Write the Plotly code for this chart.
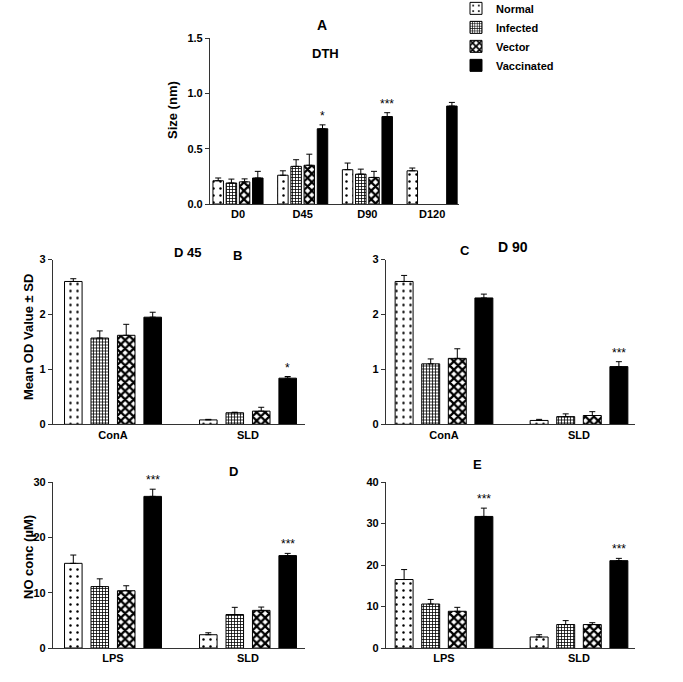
import plotly.graph_objects as go

# ---------------- data ----------------
groups = ["Normal", "Infected", "Vector", "Vaccinated"]

# Panel A: DTH
dth_days = ["D0", "D45", "D90", "D120"]
dth_normal = [0.21, 0.26, 0.31, 0.30]
dth_normal_sd = [0.025, 0.04, 0.06, 0.025]
dth_infected = [0.19, 0.34, 0.27, None]
dth_infected_sd = [0.035, 0.06, 0.045, None]
dth_vector = [0.20, 0.35, 0.24, None]
dth_vector_sd = [0.027, 0.10, 0.055, None]
dth_vaccinated = [0.235, 0.68, 0.79, 0.885]
dth_vaccinated_sd = [0.06, 0.035, 0.035, 0.033]
dth_sig = ["", "*", "***", ""]

# Panels B, C: lymphoproliferation (Mean OD)
lpa_stimuli = ["ConA", "SLD"]
d45_normal = [2.60, 0.08]
d45_normal_sd = [0.05, 0.01]
d45_infected = [1.57, 0.21]
d45_infected_sd = [0.13, 0.01]
d45_vector = [1.62, 0.24]
d45_vector_sd = [0.20, 0.07]
d45_vaccinated = [1.95, 0.84]
d45_vaccinated_sd = [0.09, 0.03]
d45_sig = ["", "*"]

d90_normal = [2.60, 0.07]
d90_normal_sd = [0.11, 0.02]
d90_infected = [1.10, 0.14]
d90_infected_sd = [0.09, 0.05]
d90_vector = [1.20, 0.16]
d90_vector_sd = [0.175, 0.07]
d90_vaccinated = [2.30, 1.05]
d90_vaccinated_sd = [0.07, 0.09]
d90_sig = ["", "***"]

# Panels D, E: NO concentration
no_stimuli = ["LPS", "SLD"]
no45_normal = [15.3, 2.4]
no45_normal_sd = [1.5, 0.35]
no45_infected = [11.1, 6.05]
no45_infected_sd = [1.4, 1.3]
no45_vector = [10.35, 6.8]
no45_vector_sd = [0.9, 0.6]
no45_vaccinated = [27.4, 16.7]
no45_vaccinated_sd = [1.3, 0.4]
no45_sig = ["***", "***"]

no90_normal = [16.5, 2.65]
no90_normal_sd = [2.4, 0.55]
no90_infected = [10.6, 5.65]
no90_infected_sd = [1.1, 0.95]
no90_vector = [8.85, 5.65]
no90_vector_sd = [0.95, 0.45]
no90_vaccinated = [31.7, 21.05]
no90_vaccinated_sd = [2.0, 0.55]
no90_sig = ["***", "***"]

# ---------------- styling ----------------
W, H = 683, 682
FONT = "Arial, Liberation Sans, Helvetica, sans-serif"

patterns = {
    "Normal": dict(shape=".", size=7, solidity=0.1, fgcolor="black", bgcolor="white", fillmode="replace"),
    "Infected": dict(shape="+", size=3, solidity=0.45, fgcolor="black", bgcolor="white", fillmode="replace"),
    "Vector": dict(shape="x", size=6, solidity=0.6, fgcolor="black", bgcolor="white", fillmode="replace"),
    "Vaccinated": dict(shape="", fgcolor="black", bgcolor="black"),
}
colors = {"Normal": "white", "Infected": "white", "Vector": "white", "Vaccinated": "black"}


def px_x(p):
    return p / W


def px_y(p):
    return 1 - p / H


fig = go.Figure()
annotations = []


def add_panel(idx, cats, series, sds, sig, slot, width, xpx, ypx, yrange, dtick, tickfmt, showlegend=False):
    xa = "x" if idx == 1 else f"x{idx}"
    ya = "y" if idx == 1 else f"y{idx}"
    for i, g in enumerate(groups):
        vals = series[i]
        sd = sds[i]
        fig.add_trace(go.Bar(
            x=cats, y=vals, name=g, xaxis=xa, yaxis=ya,
            width=width, offset=(i - 1.5) * slot - width / 2,
            marker=dict(color=colors[g], line=dict(color="black", width=1), pattern=patterns[g]),
            error_y=dict(type="data", symmetric=False, array=sd,
                         arrayminus=[0 if v is not None else None for v in sd],
                         color="black", thickness=1, width=3),
            showlegend=showlegend, legendgroup=g,
        ))
    # significance stars above vaccinated bars
    for j, s in enumerate(sig):
        if s:
            top = series[3][j] + sds[3][j]
            annotations.append(dict(
                x=j + 1.5 * slot, y=top, xref=xa, yref=ya, text=s, showarrow=False,
                yanchor="middle", yshift=9, font=dict(family=FONT, size=12, color="black"),
            ))
    axkey_x = "xaxis" if idx == 1 else f"xaxis{idx}"
    axkey_y = "yaxis" if idx == 1 else f"yaxis{idx}"
    x0, x1, c0, c1 = xpx
    unit = c1 - c0
    fig.layout[axkey_x] = dict(
        domain=[px_x(x0), px_x(x1)], anchor=ya, type="category",
        range=[(x0 - c0) / unit, (x1 - c0) / unit],
        showline=True, linecolor="#333", linewidth=1.2, ticks="", showgrid=False, zeroline=False,
        tickfont=dict(family=FONT, size=11, color="black", weight="bold"),
        fixedrange=True, automargin=False,
    )
    y0, y1 = ypx
    fig.layout[axkey_y] = dict(
        domain=[px_y(y0), px_y(y1)], anchor=xa, range=yrange, dtick=dtick, tick0=0,
        tickformat=tickfmt,
        showline=True, linecolor="#333", linewidth=1.2, ticks="outside", ticklen=4,
        tickcolor="#333", tickwidth=1, showgrid=False, zeroline=False,
        tickfont=dict(family=FONT, size=11, color="black", weight="bold"),
        fixedrange=True, automargin=False,
    )


# Panel A
add_panel(1, dth_days,
          [dth_normal, dth_infected, dth_vector, dth_vaccinated],
          [dth_normal_sd, dth_infected_sd, dth_vector_sd, dth_vaccinated_sd],
          dth_sig, slot=0.204, width=0.162,
          xpx=(210, 459, 238, 302.7), ypx=(204, 38), yrange=[0, 1.5], dtick=0.5, tickfmt=".1f",
          showlegend=True)
# Panel B
add_panel(2, lpa_stimuli,
          [d45_normal, d45_infected, d45_vector, d45_vaccinated],
          [d45_normal_sd, d45_infected_sd, d45_vector_sd, d45_vaccinated_sd],
          d45_sig, slot=0.196, width=0.13,
          xpx=(53, 305, 113, 248), ypx=(424.3, 259.5), yrange=[0, 3], dtick=1, tickfmt="d")
# Panel C
add_panel(3, lpa_stimuli,
          [d90_normal, d90_infected, d90_vector, d90_vaccinated],
          [d90_normal_sd, d90_infected_sd, d90_vector_sd, d90_vaccinated_sd],
          d90_sig, slot=0.197, width=0.133,
          xpx=(386, 635, 444, 579), ypx=(424.3, 259.5), yrange=[0, 3], dtick=1, tickfmt="d")
# Panel D
add_panel(4, no_stimuli,
          [no45_normal, no45_infected, no45_vector, no45_vaccinated],
          [no45_normal_sd, no45_infected_sd, no45_vector_sd, no45_vaccinated_sd],
          no45_sig, slot=0.196, width=0.13,
          xpx=(53, 305, 113, 248), ypx=(648, 482), yrange=[0, 30], dtick=10, tickfmt="d")
# Panel E
add_panel(5, no_stimuli,
          [no90_normal, no90_infected, no90_vector, no90_vaccinated],
          [no90_normal_sd, no90_infected_sd, no90_vector_sd, no90_vaccinated_sd],
          no90_sig, slot=0.197, width=0.133,
          xpx=(386, 635, 444, 579), ypx=(648, 482), yrange=[0, 40], dtick=10, tickfmt="d")


def label(text, x, y, size=13, angle=0):
    annotations.append(dict(
        text=text, x=px_x(x), y=px_y(y), xref="paper", yref="paper", showarrow=False,
        xanchor="center", yanchor="middle", textangle=angle,
        font=dict(family=FONT, size=size, color="black", weight="bold"),
    ))


label("A", 322, 25, 14)
label("DTH", 325, 53, 13)
label("D 45", 187, 252, 13)
label("B", 237, 255, 13)
label("C", 465, 250, 13)
label("D 90", 513, 247, 14)
label("D", 233, 471, 13)
label("E", 477, 465, 13)
label("Size (nm)", 173, 110, 13, -90)
label("Mean OD Value ± SD", 28, 337, 13, -90)
label("NO conc (µM)", 28, 557, 13, -90)

fig.update_layout(
    width=W, height=H, margin=dict(l=0, r=0, t=0, b=0, autoexpand=False),
    paper_bgcolor="white", plot_bgcolor="white",
    barmode="overlay",
    annotations=annotations,
    legend=dict(x=px_x(456), y=1.009, xanchor="left", yanchor="top",
                font=dict(family=FONT, size=11, color="black", weight="bold"),
                bgcolor="rgba(0,0,0,0)", tracegroupgap=0, itemwidth=30),
    showlegend=True,
)

fig.write_html("out.html", config={"displayModeBar": False},
               post_script="document.body.style.margin='0';")
